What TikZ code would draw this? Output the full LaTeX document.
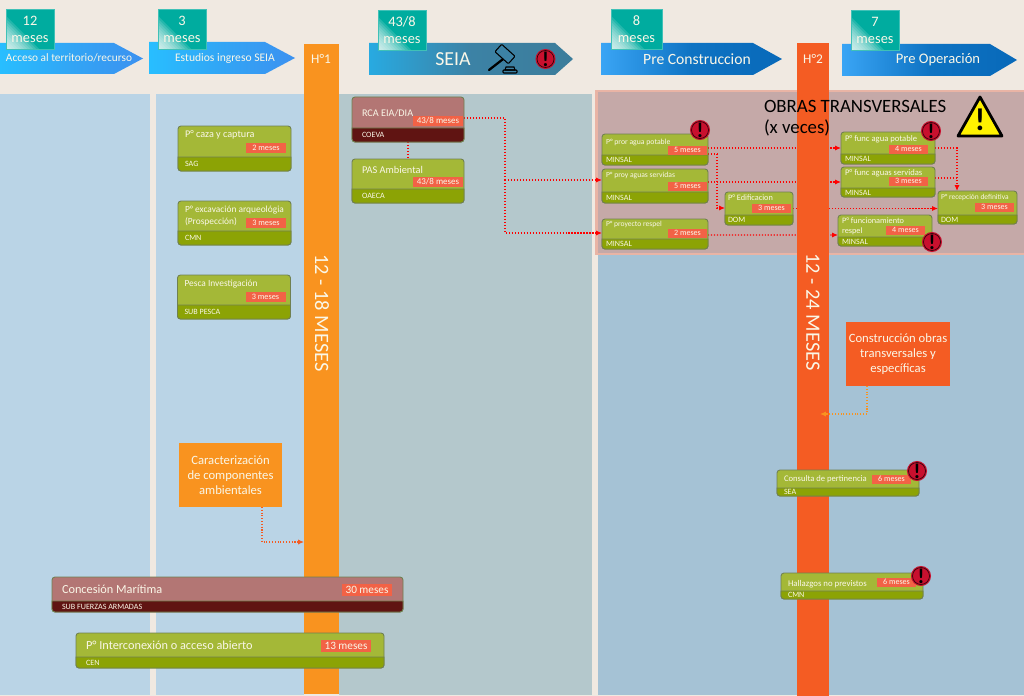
\documentclass[tikz,border=0pt]{standalone}
\usepackage{fontspec}
\setmainfont{Carlito}
\usetikzlibrary{arrows.meta, calc, positioning}
\definecolor{paper}{RGB}{240,233,225}
\definecolor{paneblue}{RGB}{186,212,230}
\definecolor{panegrey}{RGB}{180,200,204}
\definecolor{panedeep}{RGB}{165,194,213}
\definecolor{obrasfill}{RGB}{197,169,168}
\definecolor{obrasedge}{RGB}{233,180,165}
\definecolor{hitoamber}{RGB}{249,147,31}
\definecolor{hitored}{RGB}{244,92,35}
\definecolor{badgeteal}{RGB}{0,172,159}
\definecolor{cardtop}{RGB}{164,184,55}
\definecolor{cardfoot}{RGB}{140,163,5}
\definecolor{cardedge}{RGB}{112,128,80}
\definecolor{rosetop}{RGB}{179,118,116}
\definecolor{rosefoot}{RGB}{96,20,18}
\definecolor{mesred}{RGB}{242,98,70}
\definecolor{alertred}{RGB}{200,16,46}
\definecolor{cream}{RGB}{250,247,232}
\definecolor{skyA}{RGB}{40,190,255}
\definecolor{skyB}{RGB}{50,165,245}
\definecolor{skyC}{RGB}{60,145,240}
\definecolor{slateA}{RGB}{40,170,225}
\definecolor{slateB}{RGB}{60,130,165}
\definecolor{slateC}{RGB}{60,125,155}
\definecolor{deepA}{RGB}{58,165,245}
\definecolor{deepB}{RGB}{14,115,195}
\definecolor{deepC}{RGB}{8,105,185}
\pgfdeclarelayer{backdrop}
\pgfdeclarelayer{links}
\pgfdeclarelayer{bars}
\pgfsetlayers{backdrop,links,bars,main}
\newcommand{\pxu}{0.02cm}
\newcommand{\fpx}[1]{\fontsize{#1}{1.18\dimexpr#1pt\relax}\selectfont}
\tikzset{
  every node/.style={inner sep=0pt, outer sep=0pt, text=cream},
  cardgreen/.style={draw=cardedge, fill=cardtop, line width=.5pt, rounded corners=1.7pt},
  cardgreen foot/.style={draw=cardedge, fill=cardfoot, line width=.5pt},
  cardrose/.style={draw=cardedge, fill=rosetop, line width=.5pt, rounded corners=1.7pt},
  cardrose foot/.style={draw=cardedge, fill=rosefoot, line width=.5pt},
  mesmini/.style={fill=mesred, minimum width=39*\pxu, minimum height=9.5*\pxu, font=\fpx{4.6}},
  mesmid/.style={fill=mesred, minimum width=40*\pxu, minimum height=10*\pxu, font=\fpx{4.7}},
  meswide/.style={fill=mesred, minimum width=50*\pxu, minimum height=10*\pxu, font=\fpx{5.1}},
  mesbig/.style={fill=mesred, minimum width=50*\pxu, minimum height=12*\pxu, font=\fpx{6.4}},
  badge/.style={anchor=north west, fill=badgeteal, draw=badgeteal!75!white, line width=.3pt,
    align=center, font=\fpx{8.2},
    path picture={\foreach \s in {3,6,...,33}
      \fill[white, opacity=.14] (path picture bounding box.south west) -- +(\s*\pxu,0) -- +(0,\s*\pxu) -- cycle;}},
  callout/.style={align=center, font=\fpx{7.2}, minimum height=64*\pxu},
  alertsign/.style={circle, minimum size=17*\pxu, fill=alertred, draw=black!75!alertred,
    line width=.4pt, preaction={draw=alertred, line width=1.7pt}, text=black,
    font=\fontsize{12}{12}\bfseries\selectfont},
  link/.style={draw=red, densely dotted, line width=.7pt, -{Latex[length=3.4pt,width=3pt]}},
  linkplain/.style={draw=red, densely dotted, line width=.7pt},
}
% card body with its foot strip
\newcommand{\cardbox}[6][cardgreen]{
  \node[#1, anchor=north west, minimum width=#4*\pxu, minimum height=#5*\pxu] (#2) at (#3) {};
  \draw[#1 foot] ($(#2.south west)+(0,-#6)$) {[rounded corners=1.7pt] -- (#2.south west) -- (#2.south east)}
    -- ($(#2.south east)+(0,-#6)$) -- cycle;
  \coordinate (#2-f) at ($(#2.south west)+(0,-#6/2)$);
}
\newcommand{\cardtext}[8]{
  \node[anchor=west, align=left, font=\fpx{#3}] (#1-t) at ($(#1.north west)+(#2)$) {#6};
  \node[#4, anchor=south east] (#1-m) at ($(#1.south east)+(#5)$) {#7};
  \node[anchor=west, font=\fpx{4.6}] (#1-a) at (#1-t.west |- #1-f) {#8};
}
\newcommand{\phasearrow}[9]{
  \shade[left color=#7, right color=#9, middle color=#8]
    (#2,#5) -- (#4,#5) -- (#3,{(#5+#6)/2}) -- (#4,#6) -- (#2,#6) -- cycle;
  \coordinate (#1) at (#2,#5);
}
\begin{document}
\begin{tikzpicture}[x=\pxu, y=-\pxu]
\useasboundingbox (0,0) rectangle (1024,696);

\begin{pgfonlayer}{backdrop}
  \fill[paper] (0,0) rectangle (1024,696);
  \fill[paneblue] (0,94) rectangle (150,695);
  \fill[paneblue] (156,94) rectangle (304,695);
  \fill[panegrey] (339,94) rectangle (592,695);
  \fill[panedeep] (598,94) rectangle (1024,695);
  \draw[draw=obrasedge, fill=obrasfill, line width=1.7pt] (596.5,91) rectangle (1025,254);
\end{pgfonlayer}

\begin{pgfonlayer}{bars}
  \node[fill=hitoamber, anchor=north west, minimum width=35*\pxu, minimum height=650*\pxu] (hito1) at (304,44) {};
  \node[fill=hitored, anchor=north west, minimum width=32*\pxu, minimum height=653*\pxu] (hito2) at (797,43) {};
\end{pgfonlayer}
\node[font=\fpx{7.6}] (hito1-t) at (321,59) {H°1};
\node[font=\fpx{7.6}] (hito2-t) at (813,59) {H°2};
\node[font=\fpx{11.6}, rotate=-90] (hito1-d) at (322,313) {12 - 18 MESES};
\node[font=\fpx{11.6}, rotate=-90] (hito2-d) at (813,312) {12 - 24 MESES};

% fases
\phasearrow{fase1}{0}{143}{114}{43}{74}{skyA}{skyB}{skyC}
\phasearrow{fase2}{149}{295}{265}{42}{74}{skyA}{skyB}{skyC}
\phasearrow{fase3}{369}{573}{555}{43}{75}{slateA}{slateB}{slateC}
\phasearrow{fase4}{601}{782}{753}{43}{75}{deepA}{deepB}{deepC}
\phasearrow{fase5}{842}{1017}{990}{44}{76}{deepA}{deepB}{deepC}
\node[font=\fpx{6.45}] (fase1-t) at (69,58) {Acceso al territorio/recurso};
\node[font=\fpx{6.6}] (fase2-t) at (225,58) {Estudios ingreso SEIA};
\node[font=\fpx{11.3}] (fase3-t) at (453,59) {SEIA};
\node[font=\fpx{8.9}] (fase4-t) at (697,59) {Pre Construccion};
\node[font=\fpx{8.3}] (fase5-t) at (938,60) {Pre Operación};

\node[badge, minimum width=48*\pxu, minimum height=40*\pxu] (mes1) at (6,9) {12\\meses};
\node[badge, minimum width=48*\pxu, minimum height=40*\pxu] (mes2) at (158,9) {3\\meses};
\node[badge, minimum width=48*\pxu, minimum height=40*\pxu] (mes3) at (378,10) {43/8\\meses};
\node[badge, minimum width=51*\pxu, minimum height=40*\pxu] (mes4) at (611,9) {8\\meses};
\node[badge, minimum width=48*\pxu, minimum height=40*\pxu] (mes5) at (851,10) {7\\meses};

% mazo
\draw[black, line width=1.3pt, line cap=round] (507,56) -- (489,70);
\draw[black, fill=slateB, line width=.6pt, rounded corners=.5pt, rotate around={-42:(505,54)}] (496,49) rectangle (514,59);
\draw[black, fill=slateB, line width=.6pt, rounded corners=.5pt] (503,70) rectangle (517,73);
\draw[black, line width=.6pt] (506,67) -- (514,67) -- (515,70) -- (505,70) -- cycle;
\node[alertsign] (alerta3) at (545.5,59) {!};

% estudios
\cardbox{pcaza}{178,126}{113}{45}{14}
\cardtext{pcaza}{7,9}{5.8}{mesmid}{-5,-18}{P° caza y captura}{2 meses}{SAG}
\cardbox{pexcav}{178,201}{113}{44}{14}
\cardtext{pexcav}{7,15}{5.35}{mesmid}{-5,-17}{P° excavación arqueológia\\(Prospección)}{3 meses}{CMN}
\cardbox{ppesca}{177.5,275}{113}{44}{14}
\cardtext{ppesca}{7,9}{5.35}{mesmid}{-5,-17}{Pesca Investigación}{3 meses}{SUB PESCA}

% seia
\cardbox[cardrose]{rca}{352,97}{112}{45}{14}
\cardtext{rca}{10,16}{5.8}{meswide}{-1,-16}{RCA EIA/DIA}{43/8 meses}{COEVA}
\cardbox{pas}{352,159}{112}{44}{14}
\cardtext{pas}{10,11}{5.9}{meswide}{-1,-16}{PAS Ambiental}{43/8 meses}{OAECA}

% obras transversales
\node[anchor=west, text=black, font=\fpx{10.7}] (obras-t) at (764,106) {OBRAS TRANSVERSALES};
\node[anchor=west, text=black, font=\fpx{10.7}] (obras-v) at (764,128) {(x veces)};
\draw[black, fill=yellow, line width=1.6pt, line join=round] (980,97) -- (1002,136) -- (958,136) -- cycle;
\node[text=black, font=\fontsize{18}{18}\bfseries\selectfont] (warnmark) at (980,120) {!};

\cardbox{ppotable}{602,134}{106}{31}{10}
\cardtext{ppotable}{4,8}{4.4}{mesmini}{-1,-10}{P° pror agua potable}{5 meses}{MINSAL}
\cardbox{pservidas}{602,169}{106}{34}{11}
\cardtext{pservidas}{4,7}{4.35}{mesmini}{-1,-12}{P° proy aguas servidas}{5 meses}{MINSAL}
\cardbox{prespel}{602,219}{106}{30}{10}
\cardtext{prespel}{4,5}{4.3}{mesmini}{-1,-11}{P° proyecto respel}{2 meses}{MINSAL}
\cardbox{pedif}{725,192}{68}{33}{10}
\cardtext{pedif}{3,6}{4.7}{mesmini}{-2,-12}{P° Edificacion}{3 meses}{DOM}
\cardbox{fpotable}{841,132}{94}{32}{10}
\cardtext{fpotable}{4,7}{4.9}{mesmini}{-7,-10}{P° func agua potable}{4 meses}{MINSAL}
\cardbox{fservidas}{841,167}{94}{30}{9}
\cardtext{fservidas}{4,6}{4.9}{mesmini}{-7,-11}{P° func aguas servidas}{3 meses}{MINSAL}
\cardbox{frespel}{838,215}{94}{31}{9}
\cardtext{frespel}{4,11}{4.7}{mesmini}{-7,-11}{P° funcionamiento\\respel}{4 meses}{MINSAL}
\cardbox{precep}{938,191}{79}{33}{9}
\cardtext{precep}{3,7}{4.25}{mesmini}{-3,-12}{P° recepción definitiva}{3 meses}{DOM}
\node[alertsign] (alerta4) at (700,130) {!};
\node[alertsign] (alerta5) at (931,131) {!};
\node[alertsign] (alerta6) at (932,242) {!};

% construccion
\node[callout, fill=hitored, minimum width=104*\pxu, anchor=north west] (construccion) at (846,322) {Construcción obras\\transversales y\\específicas};
\node[callout, fill=hitoamber, minimum width=103*\pxu, anchor=north west] (caract) at (179,443) {Caracterización\\de componentes\\ambientales};

\cardbox{consulta}{777,470}{142}{26}{8}
\cardtext{consulta}{7,9}{4.9}{mesmini}{-8,-12}{Consulta de pertinencia}{6 meses}{SEA}
\node[alertsign] (alerta7) at (917,471) {!};
\cardbox{hallazgos}{781,573}{142}{26}{8}
\cardtext{hallazgos}{7,11}{5}{mesmini}{-7,-12}{Hallazgos no previstos}{6 meses}{CMN}
\node[alertsign] (alerta8) at (921,576) {!};

\cardbox[cardrose]{concesion}{52,577}{351}{35}{11}
\cardtext{concesion}{10,12}{7}{mesbig}{-11,-16}{Concesión Marítima}{30 meses}{SUB FUERZAS ARMADAS}
\cardbox{interconex}{76,633}{308}{35}{11}
\cardtext{interconex}{10,12}{7}{mesbig}{-13,-16}{P° Interconexión o acceso abierto}{13 meses}{CEN}

\coordinate (seiasplit) at (505,180);
\coordinate (edifsplit) at (717,154);
\coordinate (recepsplit) at (957,178);
\coordinate (hitoin1) at (304,542);
\coordinate (hitoin2) at (820,414);

\begin{pgfonlayer}{links}
  \draw[linkplain] (rca.south -| pas.north) -- (pas.north);
  \draw[linkplain] ($(rca.east)+(0,-1.5)$) -| (seiasplit);
  \draw[link] (seiasplit) -- (seiasplit -| pservidas.west);
  \draw[link] (seiasplit) |- ($(prespel.west)+(0,-1)$);
  \draw[link] ($(ppotable.east)+(0,-1.5)$) -- ($(fpotable.west)+(0,0)$);
  \draw[linkplain] (ppotable.east |- edifsplit) -- (edifsplit);
  \draw[link] (edifsplit) |- ($(pedif.west)+(0,-0.5)$);
  \draw[link] ($(pservidas.east)+(0,-4)$) -- ($(fservidas.west)+(0,0)$);
  \draw[link] ($(pedif.east)+(0,0)$) -- (pedif.east -| precep.west);
  \draw[link] ($(prespel.east)+(0,1)$) -- ($(frespel.west)+(0,4.5)$);
  \draw[link] ($(fpotable.east)$) -| (recepsplit |- precep.north);
  \draw[linkplain] (fservidas.east |- recepsplit) -- (recepsplit);
\end{pgfonlayer}
\draw[draw=hitored, densely dotted, line width=.6pt, -{Latex[length=3.4pt,width=3pt]}] (caract.south -| 262,0) |- (hitoin1);
\draw[draw=hitoamber, densely dotted, line width=.6pt, -{Latex[length=3.4pt,width=3pt]}] (construccion.south -| 867,0) |- (hitoin2);
\end{tikzpicture}
\end{document}
